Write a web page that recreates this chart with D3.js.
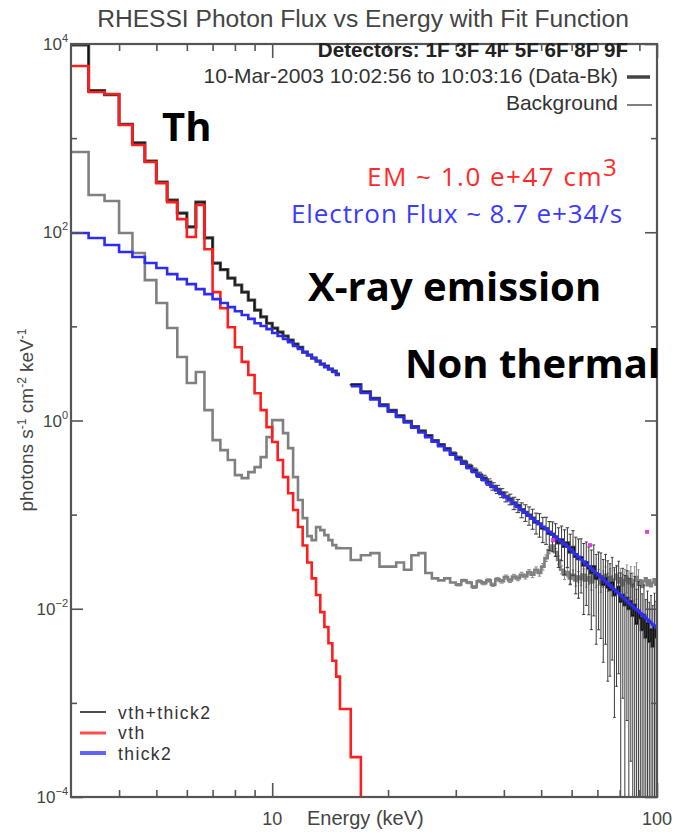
<!DOCTYPE html>
<html><head><meta charset="utf-8">
<script src="https://cdn.jsdelivr.net/npm/d3@7"></script>
<style>body{margin:0;background:#fff} svg{display:block}</style>
</head><body><svg id="c" width="677" height="833"></svg>
<script>
// ---------------- DATA ----------------
// energy bin edges (keV): 1/3 keV bins from 3 to 15, then 1 keV bins to 100
const binEdges = [3,3.333,3.667,4,4.333,4.667,5,5.333,5.667,6,6.333,6.667,7,7.333,7.667,8,8.333,8.667,9,9.333,9.667,10,10.333,10.667,11,11.333,11.667,12,12.333,12.667,13,13.333,13.667,14,14.333,14.667,15,
16,17,18,19,20,21,22,23,24,25,26,27,28,29,30,31,32,33,34,35,36,37,38,39,40,41,42,43,44,45,46,47,48,49,50,51,52,53,54,55,56,57,58,59,60,61,62,63,64,65,66,67,68,69,70,71,72,73,74,75,76,77,78,79,80,81,82,83,84,85,86,87,88,89,90,91,92,93,94,95,96,97,98,99,100];

// Data-Bk (photons s^-1 cm^-2 keV^-1)
const dataBk = [9800,3200,2900,1400,890,570,341,220,160,114,209,87,47,40,32.6,27.5,23.1,19.0,14.9,12.6,10.8,9.6,8.7,7.9,7.15,6.5,6.0,5.33,4.96,4.61,4.28,3.98,3.79,3.52,3.35,3.11,
null,2.40,2.02,1.72,1.47,1.28,1.12,0.98,0.86,0.77,0.69,
0.61,0.55,0.50,0.445,0.40,0.36,0.325,0.295,0.265,0.245,
0.222,0.200,0.186,0.170,0.155,0.146,0.133,0.125,0.113,0.106,
0.099,0.092,0.083,0.080,0.072,0.071,0.063,0.062,0.058,0.050,
0.054,0.046,0.050,0.040,0.045,0.036,0.034,0.035,0.029,0.031,
0.027,0.024,0.028,0.021,0.023,0.022,0.018,0.021,0.017,0.016,
0.019,0.014,0.015,0.017,0.012,0.014,0.011,0.013,0.010,0.012,
0.0085,0.011,0.007,0.0095,0.008,0.006,0.0085,0.005,0.007,0.0045,
0.006,0.004,0.0065,0.005];
// relative 1-sigma uncertainty of Data-Bk (only noticeable above ~25 keV)
const dataRelErr = [0,0,0,0,0,0,0,0,0,0,0,0,0,0,0,0,0,0,0,0,0,0,0,0,0,0,0,0,0,0,0,0,0,0,0,0,
null,0.01,0.012,0.014,0.015,0.017,0.018,0.02,0.022,0.024,0.026,
0.03,0.032,0.035,0.04,0.045,0.05,0.055,0.06,0.065,0.07,
0.08,0.09,0.1,0.11,0.12,0.13,0.15,0.16,0.18,0.2,
0.22,0.24,0.25,0.28,0.3,0.32,0.34,0.35,0.38,0.45,
0.4,0.5,0.45,0.55,0.5,0.6,0.62,0.58,0.7,0.65,
0.68,0.75,0.7,0.8,0.74,0.78,0.85,0.8,0.9,0.88,
0.85,0.95,0.9,0.88,1.0,0.92,1.05,0.95,1.1,0.98,
1.15,1.0,1.3,1.05,1.2,1.4,1.1,1.5,1.2,1.6,
1.3,1.7,1.25,1.4];

// Background
const background = [712,249,215,98.1,60.1,31.0,17.7,9.6,4.72,2.50,3.27,1.29,0.619,0.485,0.380,0.263,0.244,0.283,0.320,0.408,0.666,1.01,1.01,0.735,0.509,0.250,0.143,0.0918,0.0591,0.0536,0.0737,0.0684,0.0605,0.0536,0.0474,0.0441,
0.044,0.033,0.037,0.039,0.028,0.028,0.031,0.026,0.037,0.039,0.024,0.021,0.020,0.021,0.019,0.018,0.020,0.019,0.017,0.0196,0.0187,0.020,0.018,0.0206,0.0196,0.0217,0.020,0.022,0.021,0.023,0.022,0.0245,0.023,0.026,0.024,0.028,0.0345,0.042,0.047,0.040,0.033,0.026,0.023,0.0245,0.021,0.023,0.020,0.022,0.0206,0.023,0.020,0.0217,0.019,0.023,0.0206,0.022,0.0187,0.021,0.023,0.0196,0.0217,0.018,0.0206,0.023,0.019,0.021,0.0178,0.020,0.022,0.0187,0.0206,0.0174,0.020,0.0217,0.018,0.020,0.017,0.0196,0.021,0.0178,0.020,0.0174,0.019,0.0206,0.018];
// relative uncertainty of background (1 keV bins from 15 keV)
const bgRelErr = [0,0,0,0,0,0,0,0,0,0,0,0,0,0,0,0,0,0,0,0,0,0,0,0,0,0,0,0,0,0,0,0,0,0,0,0,
0,0,0,0,0,0,0,0,0,0,0,0,0,0,0,0.03,0.03,0.03,0.035,0.035,
0.04,0.04,0.04,0.045,0.045,0.05,0.05,0.055,0.055,0.06,
0.06,0.065,0.07,0.07,0.075,0.08,0.08,0.085,0.09,0.09,
0.1,0.1,0.11,0.11,0.12,0.12,0.13,0.13,0.14,0.15,
0.15,0.16,0.17,0.17,0.18,0.19,0.2,0.2,0.21,0.22,
0.23,0.24,0.25,0.26,0.27,0.28,0.3,0.31,0.33,0.35,
0.36,0.38,0.4,0.42,0.45];

// vth (thermal) fit component
const vth = [5840,3090,2940,1380,845,557,333,209,138,89,195,66,23.1,15.6,9.8,6.0,4.2,3.04,1.95,1.29,0.85,0.59,0.38,0.25,0.169,0.112,0.074,0.047,0.031,0.021,0.014,0.0092,0.0064,0.0043,0.0028,0.0019,
0.00086,0.000265,0.00002];

// thick2 (non-thermal thick target) fit component
const thick2 = [98.1,86.8,73.1,61.6,54.5,47.1,41.7,35.9,31.8,28.1,24.9,22.0,19.5,17.7,16.0,14.5,13.2,12.0,10.8,10.1,9.36,8.49,7.89,7.33,6.81,6.18,5.74,5.33,4.96,4.61,4.28,3.98,3.69,3.52,3.27,3.04,
null,2.32,1.96,1.67,1.43,1.24,1.09,0.952,0.840,0.746,0.666,0.597,0.534,0.485,0.432,0.387,0.348,0.314,0.285,0.258,0.235,0.215,0.197,0.181,0.166,0.153,0.142,0.131,0.121,0.112,0.105,0.0973,0.0909,0.0849,0.0794,0.0743,0.0698,0.0655,0.0616,0.0579,0.0545,0.0518,0.0484,0.0455,0.0427,0.0401,0.0378,0.0356,0.0336,0.0317,0.0299,0.0283,0.0267,0.0253,0.0240,0.0228,0.0216,0.0205,0.0195,0.0186,0.0177,0.0168,0.0160,0.0153,0.0146,0.0139,0.0133,0.0127,0.0122,0.0116,0.0111,0.0107,0.0102,0.0098,0.0094,0.0090,0.0087,0.0083,0.0080,0.0077,0.0074,0.0071,0.0068,0.0066,0.0063];

// flagged points (magenta)
const flaggedE = [53.7, 67, 94.2];
const flaggedV = [0.0536, 0.0474, 0.0656];

// axis ticks
const xMajorTicks = [10, 100];
const xMinorTicks = [4,5,6,7,8,9,20,30,40,50,60,70,80,90];
const yLabelExps = [4, 2, 0, -2, -4];
const yMinorExps = [3, 1, -1, -3];

// ---------------- DRAW ----------------
const svg = d3.select('#c');
const L = 71, R = 657, T = 44, B = 797;
const x = d3.scaleLog().domain([3, 100]).range([L, R]);
const y = d3.scaleLog().domain([1e-4, 1e4]).range([B, T]);
const AX = '#555';

svg.append('defs').append('clipPath').attr('id', 'clip')
  .append('rect').attr('x', L).attr('y', T).attr('width', R - L).attr('height', B - T);

function stepPoints(vals) {
  const pts = [];
  vals.forEach((v, i) => {
    if (i + 1 >= binEdges.length) return;
    if (v == null) { pts.push(null); return; }
    pts.push([binEdges[i], v]); pts.push([binEdges[i + 1], v]);
  });
  return pts;
}
const line = d3.line().defined(d => d != null).x(d => x(d[0])).y(d => y(d[1]));

const plot = svg.append('g').attr('clip-path', 'url(#clip)');

function errorBars(vals, rel, color, width, capFrac) {
  const g = plot.append('g');
  vals.forEach((v, i) => {
    const r = rel[i];
    if (v == null || !r) return;
    const lo = binEdges[i], hi = binEdges[i + 1];
    const xc = x(Math.sqrt(lo * hi));
    const half = (x(hi) - x(lo)) * capFrac / 2;
    const yTop = y(v * (1 + r));
    const yBot = (1 - r) > 0 ? y(v * (1 - r)) : B + 5;
    g.append('line').attr('x1', xc).attr('x2', xc).attr('y1', yTop).attr('y2', yBot)
      .attr('stroke', color).attr('stroke-width', width);
    g.append('line').attr('x1', xc - half).attr('x2', xc + half).attr('y1', yTop).attr('y2', yTop)
      .attr('stroke', color).attr('stroke-width', width);
    if ((1 - r) > 0) g.append('line').attr('x1', xc - half).attr('x2', xc + half).attr('y1', yBot).attr('y2', yBot)
      .attr('stroke', color).attr('stroke-width', width);
  });
}

// background + its errors
errorBars(background, bgRelErr, '#8a8a8a', 1, 1);
plot.append('path').attr('d', line(stepPoints(background)))
  .attr('fill', 'none').attr('stroke', '#808080').attr('stroke-width', 2.6);

// data error bars
errorBars(dataBk, dataRelErr, '#3a3a3a', 1, 1.2);

// data (Data-Bk) + total fit look
plot.append('path').attr('d', line(stepPoints(dataBk)))
  .attr('fill', 'none').attr('stroke', '#4a4a4a').attr('stroke-width', 3.2);
plot.append('path').attr('d', line(stepPoints(dataBk)))
  .attr('fill', 'none').attr('stroke', '#111').attr('stroke-width', 1.2);

// vth red
plot.append('path').attr('d', line(stepPoints(vth)))
  .attr('fill', 'none').attr('stroke', '#ff1e1e').attr('stroke-width', 2.6);

// thick2 blue
plot.append('path').attr('d', line(stepPoints(thick2)))
  .attr('fill', 'none').attr('stroke', '#2c2cf2').attr('stroke-width', 2.6);

// flagged
plot.selectAll('rect.fl').data(flaggedE).enter().append('rect')
  .attr('x', d => x(d) - 2).attr('y', (d, i) => y(flaggedV[i]) - 2).attr('width', 4).attr('height', 4)
  .attr('fill', '#e040e0');

// frame
svg.append('rect').attr('x', L).attr('y', T).attr('width', R - L).attr('height', B - T)
  .attr('fill', 'none').attr('stroke', AX).attr('stroke-width', 2.2);

// x ticks (bottom + top) via d3 axes
function xAxis(ticks, len, bottom) {
  const a = (bottom ? d3.axisBottom(x) : d3.axisTop(x)).tickValues(ticks).tickSize(-len).tickFormat('');
  const g = svg.append('g').attr('transform', `translate(0,${bottom ? B : T})`).call(a);
  g.select('.domain').remove();
  g.selectAll('line').attr('stroke', AX).attr('stroke-width', 1.6);
}
xAxis(xMajorTicks, 14, true); xAxis(xMinorTicks, 7, true);
xAxis(xMajorTicks, 14, false); xAxis(xMinorTicks, 7, false);

function yAxis(vals, len, left) {
  const a = (left ? d3.axisLeft(y) : d3.axisRight(y)).tickValues(vals).tickSize(-len).tickFormat('');
  const g = svg.append('g').attr('transform', `translate(${left ? L : R},0)`).call(a);
  g.select('.domain').remove();
  g.selectAll('line').attr('stroke', AX).attr('stroke-width', 1.6);
}
yAxis(yLabelExps.map(e => Math.pow(10, e)), 12, true);
yAxis(yMinorExps.map(e => Math.pow(10, e)), 6, true);
yAxis(yLabelExps.map(e => Math.pow(10, e)), 12, false);
yAxis(yMinorExps.map(e => Math.pow(10, e)), 6, false);

const FONT = "'Liberation Sans', Arial, sans-serif";
// y tick labels
yLabelExps.forEach(e => {
  const t = svg.append('text').attr('x', 68).attr('y', y(Math.pow(10, e)) + 6)
    .attr('text-anchor', 'end').attr('font-family', FONT).attr('font-size', 17).attr('fill', '#444');
  t.append('tspan').text('10');
  t.append('tspan').attr('dy', -8).attr('font-size', 11).text(String(e).replace('-', '\u2212'));
});
// x tick labels
xMajorTicks.forEach(v => {
  svg.append('text').attr('x', x(v)).attr('y', 825).attr('text-anchor', 'middle')
    .attr('font-family', FONT).attr('font-size', 18).attr('fill', '#444').text(String(v));
});
svg.append('text').attr('x', 307).attr('y', 825).attr('font-family', FONT).attr('font-size', 20)
  .attr('fill', '#444').text('Energy (keV)');

// y axis label
const yl = svg.append('text').attr('transform', 'translate(33,420) rotate(-90)').attr('text-anchor', 'middle')
  .attr('font-family', FONT).attr('font-size', 19).attr('fill', '#444');
yl.append('tspan').text('photons s');
yl.append('tspan').attr('dy', -7).attr('font-size', 12).text('-1');
yl.append('tspan').attr('dy', 7).text(' cm');
yl.append('tspan').attr('dy', -7).attr('font-size', 12).text('-2');
yl.append('tspan').attr('dy', 7).text(' keV');
yl.append('tspan').attr('dy', -7).attr('font-size', 12).text('-1');

// title
svg.append('text').attr('x', 363).attr('y', 27).attr('text-anchor', 'middle')
  .attr('font-family', FONT).attr('font-size', 24.6).attr('fill', '#444')
  .text('RHESSI Photon Flux vs Energy with Fit Function');

// top-right legend
svg.append('text').attr('x', 628).attr('y', 57).attr('text-anchor', 'end')
  .attr('font-family', FONT).attr('font-size', 20.6).attr('font-weight', 'bold').attr('fill', '#222')
  .text('Detectors: 1F 3F 4F 5F 6F 8F 9F');
svg.append('text').attr('x', 618).attr('y', 83).attr('text-anchor', 'end')
  .attr('font-family', FONT).attr('font-size', 21).attr('fill', '#333')
  .text('10-Mar-2003 10:02:56 to 10:03:16 (Data-Bk)');
svg.append('text').attr('x', 618).attr('y', 110).attr('text-anchor', 'end')
  .attr('font-family', FONT).attr('font-size', 21).attr('fill', '#333').text('Background');
svg.append('line').attr('x1', 627).attr('x2', 650).attr('y1', 77).attr('y2', 77)
  .attr('stroke', '#444').attr('stroke-width', 3.5);
svg.append('line').attr('x1', 627).attr('x2', 652).attr('y1', 105).attr('y2', 105)
  .attr('stroke', '#555').attr('stroke-width', 1.5);

// fit parameter annotations
const OS = "'Open Sans', 'Noto Sans', sans-serif";
const em = svg.append('text').attr('x', 367).attr('y', 186).attr('font-family', OS).attr('font-size', 26)
  .attr('letter-spacing', 1.5).attr('fill', '#ff2a2a');
em.append('tspan').text('EM ~ 1.0 e+47 cm');
em.append('tspan').attr('dy', -10).attr('font-size', 24).text('3');
svg.append('text').attr('x', 291).attr('y', 223).attr('font-family', OS).attr('font-size', 26)
  .attr('letter-spacing', 0.9).attr('fill', '#3b3bff')
  .text('Electron Flux ~ 8.7 e+34/s');

// big labels
[['Th', 162, 141], ['X-ray emission', 308, 301], ['Non thermal', 405, 378]].forEach(([t, xx, yy]) => {
  svg.append('text').attr('x', xx).attr('y', yy).attr('font-family', OS).attr('font-weight', 'bold')
    .attr('font-size', 40).attr('fill', '#000').text(t);
});

// bottom-left legend
const legItems = [['vth+thick2', '#222', 1.6, 712, 719], ['vth', '#ff4d4d', 3, 733, 739], ['thick2', '#6262ff', 4, 753, 760]];
legItems.forEach(([t, c, w, ly, ty]) => {
  svg.append('line').attr('x1', 80).attr('x2', 106).attr('y1', ly).attr('y2', ly).attr('stroke', c).attr('stroke-width', w);
  svg.append('text').attr('x', 118).attr('y', ty).attr('font-family', FONT).attr('font-size', 17.5)
    .attr('letter-spacing', 1.4).attr('fill', '#333').text(t);
});
</script></body></html>
